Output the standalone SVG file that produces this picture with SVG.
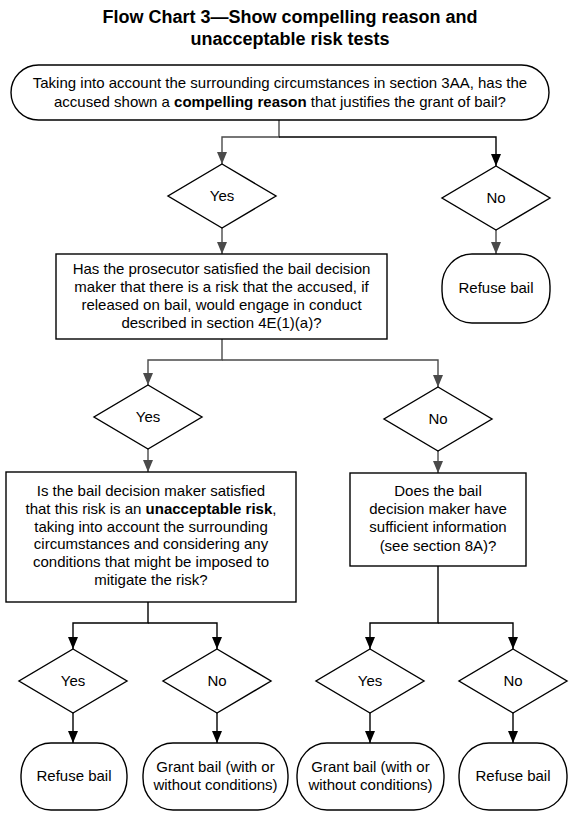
<svg xmlns="http://www.w3.org/2000/svg" width="573" height="813" viewBox="0 0 573 813">
<defs>
<marker id="ag" markerUnits="userSpaceOnUse" markerWidth="12" markerHeight="14" viewBox="0 0 12 14" refX="12" refY="5" orient="auto"><path d="M0,0 L12,5 L0,10 Z" fill="#4a4a4a"/></marker>
<marker id="ab" markerUnits="userSpaceOnUse" markerWidth="12" markerHeight="14" viewBox="0 0 12 14" refX="12" refY="5" orient="auto"><path d="M0,0 L12,5 L0,10 Z" fill="#000"/></marker>
</defs>
<style>
.s{fill:#fff;stroke:#000;stroke-width:1.4}
.t{font-family:"Liberation Sans",Arial,sans-serif;font-size:15px;fill:#000;text-anchor:middle}
.b{font-weight:bold}
.title{font-family:"Liberation Sans",Arial,sans-serif;font-size:18px;font-weight:bold;fill:#000;text-anchor:middle}
.cg{fill:none;stroke:#4a4a4a;stroke-width:1.4;marker-end:url(#ag)}
.cb{fill:none;stroke:#000;stroke-width:1.4;marker-end:url(#ab)}
</style>
<rect width="573" height="813" fill="#fff"/>
<g id="title">
<text class="title" x="290" y="23">Flow Chart 3—Show compelling reason and</text>
<text class="title" x="290" y="45">unacceptable risk tests</text>
</g>
<g id="connectors">
<path class="cg" d="M279,120 V137 H222 V164"/>
<path class="cb" d="M279,137 H496 V166"/>
<path class="cg" d="M222,228 V254"/>
<path class="cg" d="M496,230 V254"/>
<path class="cg" d="M222,339 V360 H148 V385"/>
<path class="cg" d="M222,360 H438 V387"/>
<path class="cg" d="M148,449 V472"/>
<path class="cg" d="M438,451 V473"/>
<path class="cb" d="M148,602 V623 H73 V649"/>
<path class="cb" d="M148,623 H217 V649"/>
<path class="cb" d="M438,566 V623 H370 V649"/>
<path class="cb" d="M438,623 H513 V649"/>
<path class="cb" d="M73,713 V743"/>
<path class="cb" d="M217,713 V743"/>
<path class="cb" d="M370,713 V743"/>
<path class="cb" d="M513,713 V743"/>
</g>
<g id="start">
<rect class="s" x="11" y="65" width="538" height="55" rx="27.5"/>
<text class="t" x="280" y="88">Taking into account the surrounding circumstances in section 3AA, has the</text>
<text class="t" x="280" y="107">accused shown a <tspan class="b">compelling reason</tspan> that justifies the grant of bail?</text>
</g>
<g id="d1">
<polygon class="s" points="222,164 276,196 222,228 168,196"/>
<text class="t" x="222" y="201">Yes</text>
</g>
<g id="d2">
<polygon class="s" points="496,166 550,198 496,230 442,198"/>
<text class="t" x="496" y="203">No</text>
</g>
<g id="t1">
<rect class="s" x="442" y="254" width="108" height="69" rx="30" ry="32"/>
<text class="t" x="496" y="293">Refuse bail</text>
</g>
<g id="b1">
<rect class="s" x="56" y="254" width="331" height="85"/>
<text class="t" x="221.5" y="274">Has the prosecutor satisfied the bail decision</text>
<text class="t" x="221.5" y="292">maker that there is a risk that the accused, if</text>
<text class="t" x="221.5" y="310">released on bail, would engage in conduct</text>
<text class="t" x="221.5" y="328">described in section 4E(1)(a)?</text>
</g>
<g id="d3">
<polygon class="s" points="148,385 202,417 148,449 94,417"/>
<text class="t" x="148" y="422">Yes</text>
</g>
<g id="d4">
<polygon class="s" points="438,387 492,419 438,451 384,419"/>
<text class="t" x="438" y="424">No</text>
</g>
<g id="b2">
<rect class="s" x="6" y="472" width="290" height="130"/>
<text class="t" x="151" y="496">Is the bail decision maker satisfied</text>
<text class="t" x="151" y="514">that this risk is an <tspan class="b">unacceptable risk</tspan>,</text>
<text class="t" x="151" y="532">taking into account the surrounding</text>
<text class="t" x="151" y="549">circumstances and considering any</text>
<text class="t" x="151" y="567">conditions that might be imposed to</text>
<text class="t" x="151" y="585">mitigate the risk?</text>
</g>
<g id="b3">
<rect class="s" x="350" y="473" width="176" height="93"/>
<text class="t" x="438" y="496">Does the bail</text>
<text class="t" x="438" y="514">decision maker have</text>
<text class="t" x="438" y="532">sufficient information</text>
<text class="t" x="438" y="551">(see section 8A)?</text>
</g>
<g id="d5">
<polygon class="s" points="73,649 127,681 73,713 19,681"/>
<text class="t" x="73" y="686">Yes</text>
</g>
<g id="d6">
<polygon class="s" points="217,649 271,681 217,713 163,681"/>
<text class="t" x="217" y="686">No</text>
</g>
<g id="d7">
<polygon class="s" points="370,649 424,681 370,713 316,681"/>
<text class="t" x="370" y="686">Yes</text>
</g>
<g id="d8">
<polygon class="s" points="513,649 567,681 513,713 459,681"/>
<text class="t" x="513" y="686">No</text>
</g>
<g id="t2">
<rect class="s" x="21" y="743" width="106" height="67" rx="30" ry="32"/>
<text class="t" x="74" y="781">Refuse bail</text>
</g>
<g id="t3">
<rect class="s" x="143" y="743" width="145" height="67" rx="30" ry="32"/>
<text class="t" x="215.5" y="772">Grant bail (with or</text>
<text class="t" x="215.5" y="790">without conditions)</text>
</g>
<g id="t4">
<rect class="s" x="297" y="743" width="147" height="67" rx="30" ry="32"/>
<text class="t" x="370.5" y="772">Grant bail (with or</text>
<text class="t" x="370.5" y="790">without conditions)</text>
</g>
<g id="t5">
<rect class="s" x="459" y="743" width="108" height="67" rx="30" ry="32"/>
<text class="t" x="513" y="781">Refuse bail</text>
</g>
</svg>
